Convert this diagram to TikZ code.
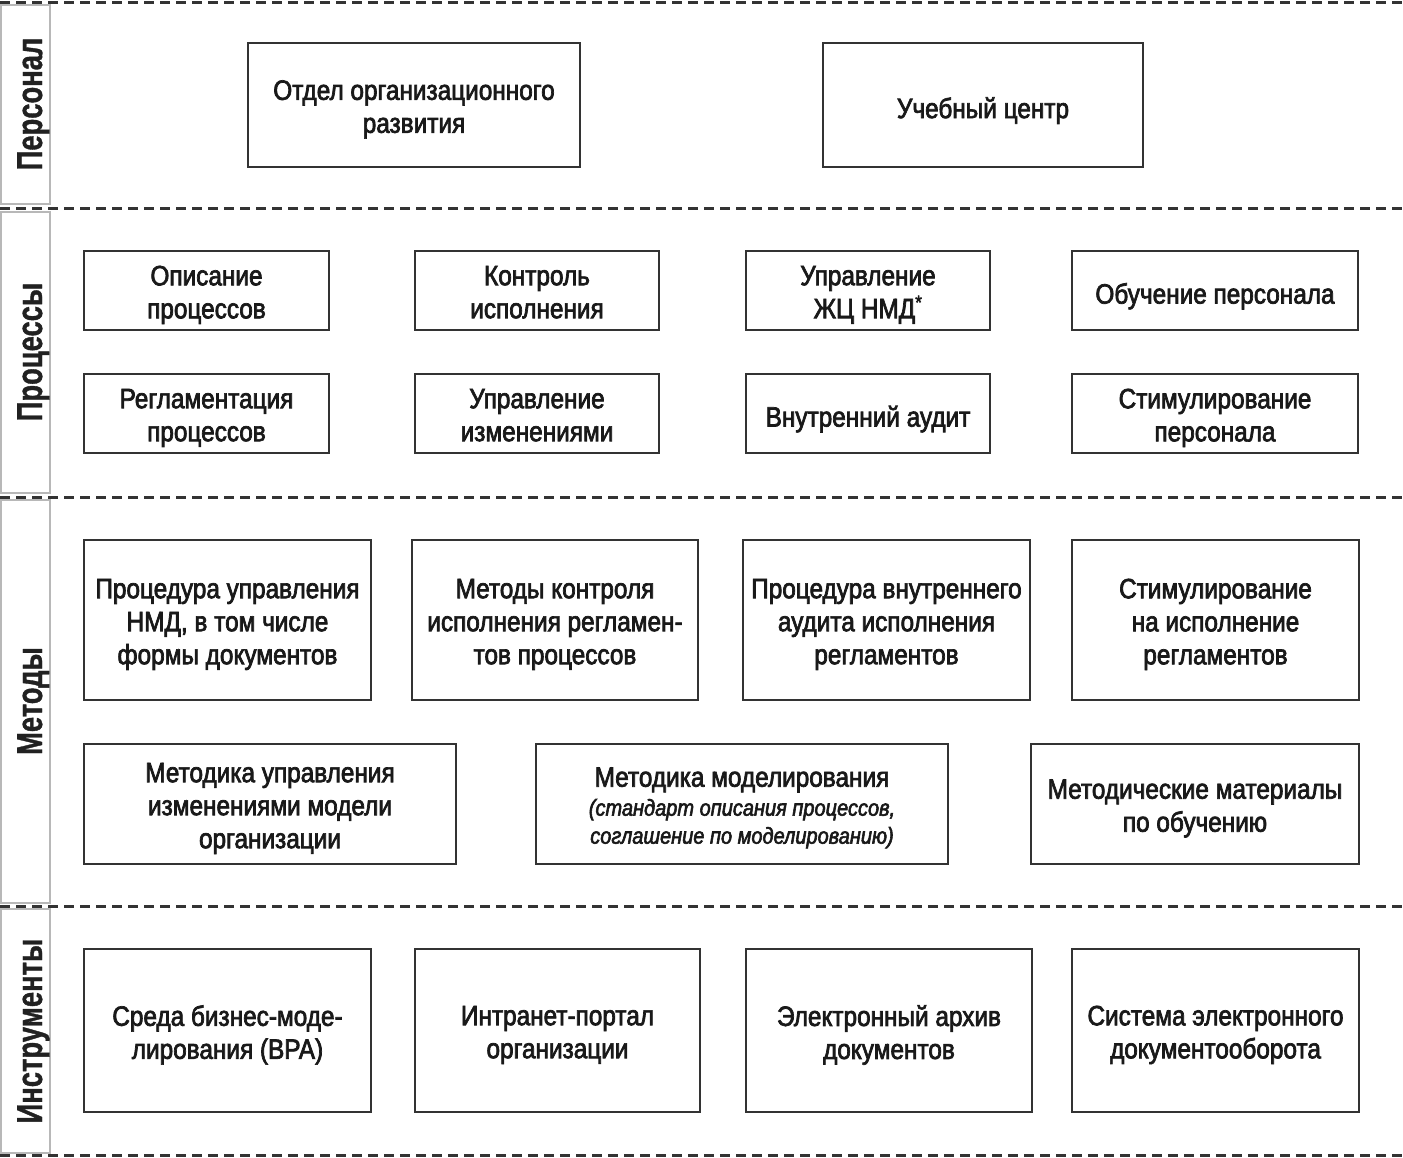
\documentclass[tikz,border=0pt]{standalone}
\usepackage{fontspec}
\setmainfont{Liberation Sans}[FakeStretch=0.87,FakeBold=2.5]
\newfontfamily\labfont{Liberation Sans}[FakeStretch=0.76,FakeBold=1]
\newcommand{\bx}[6]{%
  \node[box, minimum width=#4, minimum height=#5] (#1) at (#2,#3) {};
  \node[txt] (#1t) at ([yshift=-6.5pt]#1.center) {#6};}
\begin{document}
\begin{tikzpicture}[x=1pt,y=-1pt,
  box/.style={draw=black!80, line width=2pt, inner sep=0pt},
  txt/.style={align=center, text=black!90, inner sep=0pt,
    font=\fontsize{28}{33}\selectfont,
    execute at begin node=\strut, execute at end node=\strut},
  lab/.style={draw=none, rotate=90, anchor=base, text=black!87,
    font=\labfont\bfseries\fontsize{36}{40}\selectfont},
  labbox/.style={draw=black!28, line width=1.5pt},
  sep/.style={draw=black!80, line width=3pt, dash pattern=on 10pt off 6pt}]
\useasboundingbox (0,0) rectangle (1403,1158);
% separators
\coordinate (s0l) at (0,3);    \coordinate (s0r) at (1403,3);
\coordinate (s1l) at (0,209);  \coordinate (s1r) at (1403,209);
\coordinate (s2l) at (0,497);  \coordinate (s2r) at (1403,497);
\coordinate (s3l) at (0,906);  \coordinate (s3r) at (1403,906);
\coordinate (s4l) at (0,1155); \coordinate (s4r) at (1403,1155);
\draw[sep] (s0l) -- (s0r);
\draw[sep] (s1l) -- (s1r);
\draw[sep] (s2l) -- (s2r);
\draw[sep] (s3l) -- (s3r);
\draw[sep] (s4l) -- (s4r);
% label boxes
\draw[labbox] (1,5) rectangle (50,204);
\draw[labbox] (1,212) rectangle (50,493);
\draw[labbox] (1,500) rectangle (50,903);
\draw[labbox] (1,909) rectangle (50,1153);
\node[lab] (l1) at (42,104) {Персонал};
\node[lab] (l2) at (42,352) {Процессы};
\node[lab] (l3) at (42,701) {Методы};
\node[lab] (l4) at (42,1031) {Инструменты};
% Персонал
\bx{p1}{414}{105}{332}{124}{Отдел организационного\\развития}
\bx{p2}{983}{105}{320}{124}{Учебный центр}
% Процессы
\bx{r1}{206.5}{290.5}{245}{79}{Описание\\процессов}
\bx{r2}{537}{290.5}{244}{79}{Контроль\\исполнения}
\bx{r3}{868}{290.5}{244}{79}{Управление\\ЖЦ НМД\textsuperscript{*}}
\bx{r4}{1215}{290.5}{286}{79}{Обучение персонала}
\bx{r5}{206.5}{413.5}{245}{79}{Регламентация\\процессов}
\bx{r6}{537}{413.5}{244}{79}{Управление\\изменениями}
\bx{r7}{868}{413.5}{244}{79}{Внутренний аудит}
\bx{r8}{1215}{413.5}{286}{79}{Стимулирование\\персонала}
% Методы
\bx{m1}{227.5}{620}{287}{160}{Процедура управления\\НМД, в том числе\\формы документов}
\bx{m2}{555}{620}{286}{160}{Методы контроля\\исполнения регламен-\\тов процессов}
\bx{m3}{886.5}{620}{287}{160}{Процедура внутреннего\\аудита исполнения\\регламентов}
\bx{m4}{1215.5}{620}{287}{160}{Стимулирование\\на исполнение\\регламентов}
\bx{m5}{270}{804}{372}{120}{Методика управления\\изменениями модели\\организации}
\bx{m6}{742}{804}{412}{120}{Методика моделирования\\[-4pt]{\itshape\fontsize{23}{28}\selectfont (стандарт описания процессов,}\\[-5pt]{\itshape\fontsize{23}{28}\selectfont соглашение по моделированию)}}
\bx{m7}{1195}{804}{328}{120}{Методические материалы\\по обучению}
% Инструменты
\bx{t1}{227.5}{1030.5}{287}{163}{Среда бизнес-моде-\\лирования (BPA)}
\bx{t2}{557.5}{1030.5}{285}{163}{Интранет-портал\\организации}
\bx{t3}{889}{1030.5}{286}{163}{Электронный архив\\документов}
\bx{t4}{1215.5}{1030.5}{287}{163}{Система электронного\\документооборота}
\end{tikzpicture}
\end{document}
